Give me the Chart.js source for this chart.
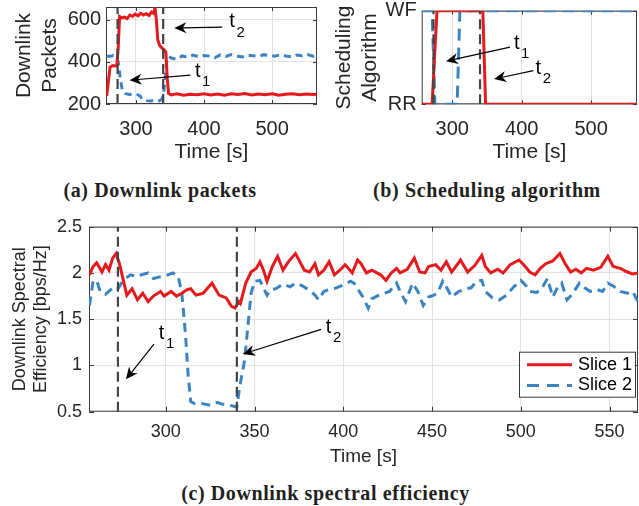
<!DOCTYPE html>
<html>
<head>
<meta charset="utf-8">
<script src="https://cdn.jsdelivr.net/npm/chart.js@4.4.0/dist/chart.umd.min.js"></script>
<style>
  html, body { margin: 0; padding: 0; background: #fff; }
  body { width: 639px; height: 506px; position: relative; overflow: hidden; }
  canvas { position: absolute; }
  .cap {
    position: absolute;
    font-family: "Liberation Serif", "Times New Roman", serif;
    font-weight: bold;
    font-size: 20px;
    letter-spacing: 0.6px;
    line-height: 22px;
    color: #231f20;
    text-align: center;
    white-space: nowrap;
  }
</style>
</head>
<body>
<canvas id="chartA" width="320" height="172" style="left:0;top:0"></canvas>
<canvas id="chartB" width="319" height="172" style="left:320px;top:0"></canvas>
<canvas id="chartC" width="639" height="270" style="left:0;top:210px"></canvas>
<div class="cap" style="left:0;width:320px;top:179px">(a) Downlink packets</div>
<div class="cap" style="left:327px;width:320px;top:179px">(b) Scheduling algorithm</div>
<div class="cap" style="left:6px;width:639px;top:482px">(c) Downlink spectral efficiency</div>
<script>
// switching instants
const t1 = 273;
const t2 = 340;

// (a) downlink packets
const packetsTime1 = [257, 260, 262, 266, 270, 272, 274, 276, 279, 283, 287, 291, 295, 299, 303, 307, 311, 315, 319, 323,
  326, 328, 330, 332, 335, 338, 341, 344, 346, 348, 352, 360, 370, 380, 390, 400, 410, 420, 430, 440,
  450, 460, 470, 480, 490, 500, 510, 520, 530, 540, 550, 560, 566];
const packetsSlice1 = [239, 320, 376, 382, 380, 384, 470, 615, 608, 612, 605, 622, 616, 626, 618, 630, 622, 628, 620, 636,
  630, 657, 600, 505, 476, 466, 458, 445, 320, 250, 243, 248, 242, 246, 244, 249, 243, 247, 242, 248,
  245, 250, 243, 247, 244, 248, 242, 246, 249, 244, 247, 245, 246];
const packetsTime2 = [257, 262, 267, 271, 274, 277, 280, 284, 290, 296, 302, 306, 310, 316, 322, 328, 334, 338, 341, 343,
  345, 348, 352, 360, 368, 376, 384, 392, 400, 408, 416, 424, 432, 440, 448, 456, 464, 472, 480, 488,
  496, 504, 512, 520, 528, 536, 544, 552, 560, 566];
const packetsSlice2 = [427, 426, 430, 424, 400, 320, 265, 250, 245, 247, 244, 238, 220, 216, 214, 218, 215, 222, 260, 330,
  395, 425, 418, 412, 428, 422, 432, 424, 430, 427, 420, 433, 426, 434, 428, 423, 432, 429, 425, 434,
  430, 427, 433, 428, 424, 432, 429, 434, 427, 430];
const packetTicks = [200, 400, 600];

// (b) scheduling algorithm (0 = RR, 1 = WF)
const schedTime1 = [256, 271, 278, 344, 348, 566];
const schedSlice1 = [0, 0, 1, 1, 0, 0];
const schedTime2 = [256, 271, 275, 307, 311, 566];
const schedSlice2 = [1, 1, 0, 0, 1, 1];
const schedTicks = [0, 1];
const schedLabels = ["RR", "WF"];

// (c) downlink spectral efficiency
const effTime1 = [257, 259, 261, 264, 266, 268, 270, 272, 274, 278, 281, 284, 287, 290, 293, 297, 299, 303, 306, 309,
  312, 314, 317, 321, 326, 330, 334, 337, 339, 341, 342, 345, 348, 351, 353, 355, 357, 360, 363, 366,
  369, 373, 375, 378, 381, 384, 386, 389, 392, 395, 398, 401, 405, 408, 410, 413, 416, 421, 424, 427,
  430, 432, 436, 440, 443, 446, 448, 452, 455, 458, 461, 463, 466, 470, 474, 478, 480, 483, 487, 490,
  494, 499, 502, 505, 508, 511, 514, 518, 522, 525, 528, 531, 534, 537, 541, 545, 549, 552, 556, 560,
  563, 566];
const effSlice1 = [1.98, 2.07, 2.11, 2.01, 2.09, 2.03, 2.16, 2.21, 2.09, 1.76, 1.83, 1.71, 1.78, 1.69, 1.75, 1.80, 1.75, 1.80, 1.75, 1.78,
  1.82, 1.83, 1.76, 1.78, 1.89, 1.76, 1.73, 1.64, 1.62, 1.69, 1.67, 1.89, 2.01, 2.05, 2.12, 2.03, 1.91, 2.07, 2.18, 2.03,
  2.12, 2.21, 2.14, 2.03, 2.01, 2.10, 1.98, 2.03, 2.12, 1.98, 2.03, 2.09, 2.00, 2.14, 2.10, 2.00, 2.03, 1.98, 1.92, 2.00,
  2.05, 2.00, 2.04, 2.16, 2.01, 2.00, 2.07, 2.09, 2.03, 2.12, 2.01, 2.06, 2.14, 2.01, 2.08, 2.19, 2.07, 2.00, 2.04, 2.00,
  2.09, 2.14, 2.08, 2.01, 1.98, 2.05, 2.10, 2.13, 2.21, 2.10, 2.01, 2.04, 2.00, 2.05, 2.03, 2.06, 2.18, 2.07, 2.05, 2.01,
  1.99, 2.00];
const effTime2 = [257, 259, 261, 263, 266, 269, 271, 273, 276, 280, 284, 286, 290, 293, 297, 300, 304, 307, 309, 311,
  312.5, 314, 316, 320, 325, 329, 332, 336, 340, 341.6, 344.4, 346.2, 348, 350, 353, 357, 359, 362, 366, 370,
  373, 377, 381, 384, 386, 389, 392, 395, 400, 404, 406, 411, 414, 416, 420, 423, 426, 430, 432, 435,
  439, 442, 445, 448, 451, 453, 456, 458, 461, 465, 469, 472, 475, 478, 480, 484, 488, 492, 496, 500,
  503, 505, 509, 512, 515, 518, 520, 523, 526, 529, 533, 536, 539, 543, 546, 549, 552, 556, 560, 563,
  566];
const effSlice2 = [1.65, 1.91, 1.92, 1.80, 1.77, 1.82, 1.85, 1.83, 1.92, 1.98, 1.96, 1.98, 2.00, 1.94, 1.96, 1.97, 2.00, 1.96, 1.78, 1.35,
  0.91, 0.61, 0.59, 0.59, 0.57, 0.60, 0.58, 0.57, 0.55, 0.77, 1.06, 1.42, 1.78, 1.91, 1.92, 1.76, 1.82, 1.83, 1.88, 1.85,
  1.89, 1.86, 1.81, 1.76, 1.71, 1.80, 1.82, 1.83, 1.87, 1.91, 1.89, 1.74, 1.62, 1.72, 1.76, 1.78, 1.80, 1.89, 1.80, 1.69,
  1.89, 1.80, 1.65, 1.74, 1.76, 1.78, 1.91, 1.85, 1.74, 1.80, 1.83, 1.84, 1.91, 1.92, 1.80, 1.73, 1.71, 1.76, 1.85, 1.92,
  1.86, 1.80, 1.79, 1.84, 1.94, 1.74, 1.82, 1.89, 1.71, 1.77, 1.89, 1.84, 1.80, 1.82, 1.80, 1.89, 1.86, 1.80, 1.78, 1.80,
  1.69];
const effTicks = [0.5, 1, 1.5, 2, 2.5];

const timeTicksTop = [300, 400, 500];
const timeTicksBottom = [300, 350, 400, 450, 500, 550];
const seriesLabels = ["Slice 1", "Slice 2"];

// arrow annotations, in data units
const notesA = [
  { sub: "2", tail: [426.6, 565], tip: [356.4, 560], text: [441.3, 589] },
  { sub: "1", tail: [380, 337], tip: [290.7, 313], text: [390.7, 353] },
];
const notesB = [
  { sub: "1", tail: [383.2, 0.61], tip: [291, 0.46], text: [392.9, 0.65] },
  { sub: "2", tail: [416.8, 0.36], tip: [360.2, 0.27], text: [424, 0.385] },
];
const notesC = [
  { sub: "1", tail: [293.3, 1.23], tip: [277.5, 0.85], text: [297.6, 1.347] },
  { sub: "2", tail: [387.5, 1.39], tip: [343.4, 1.124], text: [391.7, 1.41] },
];

const FONT = '"Liberation Sans", Arial, Helvetica, sans-serif';
const TEXT_COLOR = "#262626";
const GRID_COLOR = "#e2e2e2";
const RED = "#e41a1c";
const BLUE = "#3a84c3";
const VLINE = "#444444";

function points(xs, ys) {
  return xs.map((x, i) => ({ x: x, y: ys[i] }));
}

function series(label, xs, ys, color, dash, order) {
  return {
    label: label,
    data: points(xs, ys),
    borderColor: color,
    borderWidth: 3,
    borderDash: dash,
    pointRadius: 0,
    tension: 0,
    order: order,
  };
}

function vline(t, lo, hi) {
  return {
    data: [{ x: t, y: lo }, { x: t, y: hi }],
    borderColor: VLINE,
    borderWidth: 2.2,
    borderDash: [10, 5],
    pointRadius: 0,
    order: 0,
  };
}

function drawArrow(ctx, x1, y1, x2, y2) {
  const ang = Math.atan2(y2 - y1, x2 - x1);
  const c = Math.cos(ang), s = Math.sin(ang);
  const len = 12, half = 5.5;
  const bx = x2 - len * c, by = y2 - len * s;
  const nx = x2 - 0.7 * len * c, ny = y2 - 0.7 * len * s;
  ctx.beginPath();
  ctx.moveTo(x1, y1);
  ctx.lineTo(nx, ny);
  ctx.stroke();
  ctx.beginPath();
  ctx.moveTo(x2, y2);
  ctx.lineTo(bx - half * s, by + half * c);
  ctx.lineTo(nx, ny);
  ctx.lineTo(bx + half * s, by - half * c);
  ctx.closePath();
  ctx.fill();
}

function framePlugin(tickLen) {
  return {
    id: "frame",
    beforeDatasetsDraw(chart) {
      const { ctx, chartArea: a, scales } = chart;
      ctx.save();
      ctx.strokeStyle = "#3a3a3a";
      ctx.lineWidth = 1;
      ctx.strokeRect(a.left + 0.5, a.top + 0.5, a.right - a.left - 1, a.bottom - a.top - 1);
      ctx.beginPath();
      scales.x.ticks.forEach(function (t) {
        const x = Math.round(scales.x.getPixelForValue(t.value)) + 0.5;
        ctx.moveTo(x, a.bottom);
        ctx.lineTo(x, a.bottom - tickLen);
        ctx.moveTo(x, a.top);
        ctx.lineTo(x, a.top + tickLen);
      });
      scales.y.ticks.forEach(function (t) {
        const y = Math.round(scales.y.getPixelForValue(t.value)) + 0.5;
        ctx.moveTo(a.left, y);
        ctx.lineTo(a.left + tickLen, y);
        ctx.moveTo(a.right, y);
        ctx.lineTo(a.right - tickLen, y);
      });
      ctx.stroke();
      ctx.restore();
    },
  };
}

function notesPlugin(items) {
  return {
    id: "notes",
    afterDatasetsDraw(chart) {
      const { ctx, scales } = chart;
      const x = scales.x, y = scales.y;
      ctx.save();
      ctx.strokeStyle = "#000";
      ctx.fillStyle = "#000";
      ctx.lineWidth = 1.2;
      items.forEach(function (n) {
        drawArrow(ctx,
          x.getPixelForValue(n.tail[0]), y.getPixelForValue(n.tail[1]),
          x.getPixelForValue(n.tip[0]), y.getPixelForValue(n.tip[1]));
        const lx = x.getPixelForValue(n.text[0]);
        const ly = y.getPixelForValue(n.text[1]);
        ctx.textAlign = "center";
        ctx.textBaseline = "middle";
        ctx.font = "20px " + FONT;
        ctx.fillText("t", lx, ly);
        ctx.font = "15px " + FONT;
        ctx.fillText(n.sub, lx + 8.5, ly + 10.5);
      });
      ctx.restore();
    },
  };
}

const legendPlugin = {
  id: "boxLegend",
  afterDraw(chart) {
    const { ctx, chartArea: a } = chart;
    const items = chart.data.datasets.filter((d) => d.label);
    const w = 117, h = 46;
    const left = a.right - 2 - w, top = a.bottom - 14 - h;
    ctx.save();
    ctx.fillStyle = "#fff";
    ctx.fillRect(left, top, w, h);
    ctx.strokeStyle = "#3a3a3a";
    ctx.lineWidth = 1;
    ctx.strokeRect(left + 0.5, top + 0.5, w - 1, h - 1);
    items.forEach(function (d, i) {
      const y = top + 13 + i * 20.7;
      ctx.beginPath();
      ctx.strokeStyle = d.borderColor;
      ctx.lineWidth = 3;
      ctx.setLineDash(d.borderDash && d.borderDash.length ? [12, 8] : []);
      ctx.moveTo(left + 8, y);
      ctx.lineTo(left + 53, y);
      ctx.stroke();
      ctx.setLineDash([]);
      ctx.fillStyle = "#000";
      ctx.font = "18px " + FONT;
      ctx.textAlign = "left";
      ctx.textBaseline = "middle";
      ctx.fillText(d.label, left + 59, y);
    });
    ctx.restore();
  },
};

function scalesFor(o) {
  return {
    x: {
      type: "linear",
      min: o.xMin,
      max: o.xMax,
      afterBuildTicks: function (s) { s.ticks = o.xTicks.map((v) => ({ value: v })); },
      afterFit: function (s) { s.height = o.xHeight; s.paddingLeft = 0; s.paddingRight = 0; },
      grid: { color: GRID_COLOR, drawTicks: false },
      border: { display: false },
      ticks: {
        autoSkip: false, maxRotation: 0, padding: o.xTickPad, color: TEXT_COLOR,
        font: { family: FONT, size: o.tickSize },
        callback: (v) => String(v),
      },
      title: {
        display: true, text: "Time [s]", color: TEXT_COLOR,
        font: { family: FONT, size: o.xTitleSize, lineHeight: 1.2 },
        padding: { top: 0, bottom: o.xTitlePad },
      },
    },
    y: {
      type: "linear",
      min: o.yMin,
      max: o.yMax,
      afterBuildTicks: function (s) { s.ticks = o.yTicks.map((v) => ({ value: v })); },
      afterFit: function (s) { s.width = o.yWidth; s.paddingTop = 0; s.paddingBottom = 0; },
      grid: { color: GRID_COLOR, drawTicks: false },
      border: { display: false },
      ticks: {
        autoSkip: false, padding: o.yTickPad, color: TEXT_COLOR,
        font: { family: FONT, size: o.tickSize },
        callback: o.yLabel || ((v) => String(v)),
      },
      title: {
        display: true, text: o.yTitle, color: TEXT_COLOR,
        font: { family: FONT, size: o.yTitleSize, lineHeight: 1.2 },
        padding: { top: o.yTitlePad, bottom: 0 },
      },
    },
  };
}

function baseOptions(scales, pad) {
  return {
    responsive: false,
    animation: false,
    events: [],
    layout: { padding: pad },
    plugins: { legend: { display: false }, tooltip: { enabled: false } },
    scales: scales,
  };
}

// (a)
new Chart(document.getElementById("chartA"), {
  type: "line",
  data: {
    datasets: [
      series(seriesLabels[0], packetsTime1, packetsSlice1, RED, [], 1),
      series(seriesLabels[1], packetsTime2, packetsSlice2, BLUE, [7, 5], 2),
      vline(t1, 200, 660),
      vline(t2, 200, 660),
    ],
  },
  options: baseOptions(scalesFor({
    xMin: 256, xMax: 566, xTicks: timeTicksTop, xHeight: 68, xTickPad: 13, xTitlePad: 7,
    yMin: 200, yMax: 660, yTicks: packetTicks, yWidth: 106, yTickPad: 5,
    yTitle: ["Downlink", "Packets"], yTitlePad: 12,
    tickSize: 20, xTitleSize: 21, yTitleSize: 21,
  }), { top: 7, right: 3, left: 0, bottom: 0 }),
  plugins: [framePlugin(4), notesPlugin(notesA)],
});

// (b)
new Chart(document.getElementById("chartB"), {
  type: "line",
  data: {
    datasets: [
      series(seriesLabels[0], schedTime1, schedSlice1, RED, [], 1),
      series(seriesLabels[1], schedTime2, schedSlice2, BLUE, [12, 7], 2),
      vline(t1, 0, 1),
      vline(t2, 0, 1),
    ],
  },
  options: baseOptions(scalesFor({
    xMin: 256, xMax: 566, xTicks: timeTicksTop, xHeight: 67.7, xTickPad: 13, xTitlePad: 7,
    yMin: 0, yMax: 1, yTicks: schedTicks, yWidth: 101.7, yTickPad: 5,
    yLabel: (v) => schedLabels[schedTicks.indexOf(v)],
    yTitle: ["Scheduling", "Algorithm"], yTitlePad: 12,
    tickSize: 20, xTitleSize: 21, yTitleSize: 21,
  }), { top: 10.7, right: 2, left: 0, bottom: 0 }),
  plugins: [framePlugin(4), notesPlugin(notesB)],
});

// (c)
new Chart(document.getElementById("chartC"), {
  type: "line",
  data: {
    datasets: [
      series(seriesLabels[0], effTime1, effSlice1, RED, [], 1),
      series(seriesLabels[1], effTime2, effSlice2, BLUE, [9, 6], 2),
      vline(t1, 0.5, 2.5),
      vline(t2, 0.5, 2.5),
    ],
  },
  options: baseOptions(scalesFor({
    xMin: 256.7, xMax: 566, xTicks: timeTicksBottom, xHeight: 68.3, xTickPad: 10, xTitlePad: 12,
    yMin: 0.5, yMax: 2.5, yTicks: effTicks, yWidth: 89, yTickPad: 7,
    yLabel: (v) => String(v),
    yTitle: ["Downlink Spectral", "Efficiency [bps/Hz]"], yTitlePad: 9,
    tickSize: 18, xTitleSize: 19, yTitleSize: 18,
  }), { top: 16.7, right: 1, left: 0, bottom: 0 }),
  plugins: [framePlugin(5), notesPlugin(notesC), legendPlugin],
});
</script>
</body>
</html>
